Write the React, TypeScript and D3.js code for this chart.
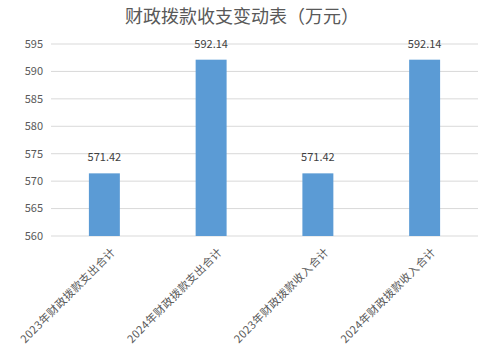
import React from "react";
import * as d3 from "d3";

const categories = ["2023年财政拨款支出合计", "2024年财政拨款支出合计", "2023年财政拨款收入合计", "2024年财政拨款收入合计"];
const values = [571.42, 592.14, 571.42, 592.14];
const yTicks = [560, 565, 570, 575, 580, 585, 590, 595];
const title = "财政拨款收支变动表（万元）";

const W = 482, H = 356;
const left = 51, right = 478, top = 44, bottom = 236;
const font = "'Noto Sans CJK SC', 'Noto Sans', sans-serif";

export default function App() {
  const x = d3.scaleBand<string>().domain(categories).range([left, right]).paddingInner(0.71).paddingOuter(0.355);
  const y = d3.scaleLinear().domain([560, 595]).range([bottom, top]);
  return (
    <svg width={W} height={H} style={{ position: "absolute", left: 0, top: 0, background: "#fff" }}>
      <text x={242} y={23} textAnchor="middle" fontSize={18} fill="#595959" fontFamily={font}>{title}</text>
      {yTicks.map(t => (
        <g key={t}>
          <line x1={left} x2={right} y1={y(t)} y2={y(t)} stroke="#D9D9D9" strokeWidth={1} />
          <text x={43} y={y(t)} dy="0.35em" textAnchor="end" fontSize={11} fill="#595959" fontFamily={font}>{t}</text>
        </g>
      ))}
      {categories.map((c, i) => (
        <g key={c}>
          <rect x={x(c)!} width={x.bandwidth()} y={y(values[i])} height={y(560) - y(values[i])} fill="#5B9BD5" />
          <text x={x(c)! + x.bandwidth() / 2} y={y(values[i]) - 12} textAnchor="middle" fontSize={11} fill="#404040" fontFamily={font}>{values[i].toFixed(2)}</text>
          <text transform={`translate(${x(c)! + x.bandwidth() / 2 + 9},${bottom + 14}) rotate(-45)`} textAnchor="end" fontSize={11} letterSpacing={0.4} fill="#595959" fontFamily={font} dy="0.35em">{c}</text>
        </g>
      ))}
    </svg>
  );
}
